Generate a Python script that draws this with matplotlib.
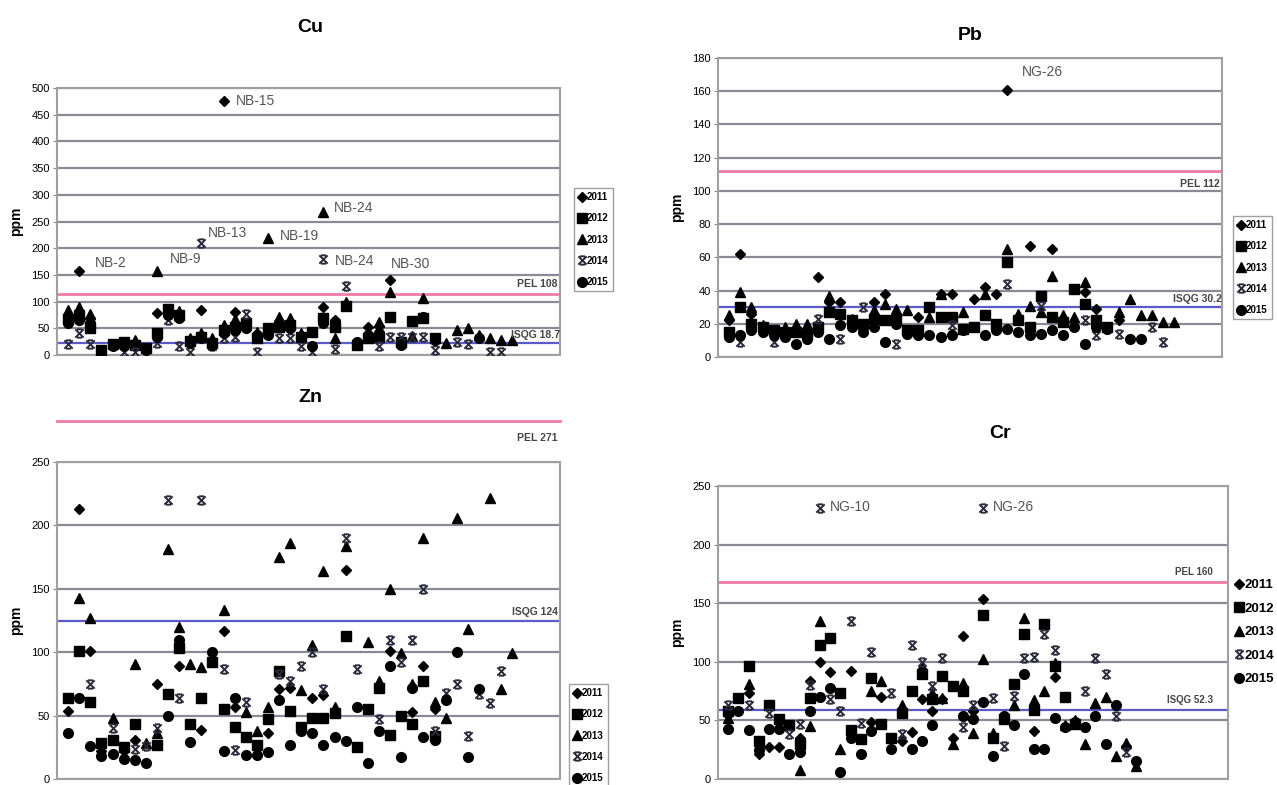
import matplotlib
matplotlib.use("Agg")
import matplotlib.pyplot as plt
import numpy as np
from matplotlib.path import Path

plt.rcParams['font.family'] = ['Liberation Sans', 'DejaVu Sans']

n = np.nan
years = ['2011', '2012', '2013', '2014', '2015']
stations = np.arange(1, 42)

# Cu (ppm)
cu_2011 = [75, 158, 70, n, n, n, n, n, 78, n, n, n, 84, n, 475, 81, n, n, n, 63, n, n, n, 89, 65,
           n, n, 53, 55, 141, n, n, n, n, n, n, n, n, n, n, n]
cu_2012 = [68, 75, 50, 10, 21, 25, 19, 13, 41, 87, 75, 27, 34, 22, 47, 53, 59, 31, 50, 53, 56, 34, 44, 69, 53,
           91, 19, 31, 34, 72, 25, 64, 69, 31, n, n, n, n, n, n, n]
cu_2013 = [85, 89, 76, n, n, n, 28, n, 158, 83, 83, 31, 41, 31, 56, 67, 56, 44, 220, 72, 69, 41, n, 268, 31,
           100, 25, n, 62, 118, n, 36, 106, n, 22, 47, 50, 38, 31, 28, 28]
cu_2014 = [20, 41, 21, n, n, 6, 6, n, 23, 66, 17, 6, 210, 17, 31, 34, 77, 6, n, 31, 31, 17, 6, 180, 12,
           129, n, n, 17, 34, 34, 34, 34, 9, n, 25, 21, n, 6, 6, n]
cu_2015 = [60, 66, 59, 8, 16, 16, n, 10, 34, 75, 69, 22, 31, 19, 41, 47, 50, 38, 38, n, 50, 34, 16, 60, 62,
           n, 25, 38, 41, n, 19, n, 72, 28, n, n, n, 31, n, n, n]

# Pb (ppm)
pb_2011 = [22, 62, 26, n, n, n, n, n, 48, 33, 33, n, n, 33, 38, n, n, 24, n, 38, 38, n, 35, 42, 38,
           161, n, 67, n, 65, n, n, 39, 29, n, 22, n, n, n, n, n]
pb_2012 = [15, 30, 20, 18, 16, 15, 15, 14, 18, 27, 26, 22, 20, 23, 22, 22, 16, 16, 30, 24, 24, 17, 18, 25, 20,
           57, 22, 18, 37, 24, 21, 41, 32, 22, 18, n, n, n, n, n, n]
pb_2013 = [25, 39, 30, 19, n, 18, 20, 20, n, 37, n, 23, n, 28, 32, 29, 28, n, 24, 38, n, 27, n, 38, n,
           65, 26, 31, 27, 49, 25, 24, 45, n, n, 27, 35, 25, 25, 21, 21]
pb_2014 = [n, 9, n, n, 9, n, n, n, 23, n, 11, n, 30, n, n, 8, n, n, n, n, 19, n, n, n, n,
           44, n, n, 31, n, n, n, 22, 13, n, 14, n, n, 18, 9, n]
pb_2015 = [12, 13, 16, 15, 13, 12, 8, 11, 15, 11, 19, 18, 15, 18, 9, 20, 14, 13, 13, 12, 13, 16, n, 13, 16,
           17, 15, 13, 14, 16, 13, 18, 8, 18, 17, n, 11, 11, n, n, n]

# Zn (ppm)
zn_2011 = [54, 213, 101, 22, n, 22, 31, n, 75, n, 89, n, 39, n, 117, 57, n, n, 36, 71, 72, n, 64, 66, n,
           165, n, n, n, 101, n, 53, 89, 55, n, n, n, n, n, n, n]
zn_2012 = [64, 101, 61, 28, 31, 25, 43, n, 27, 67, 103, 43, 64, 92, 55, 41, 33, 27, 47, 85, 54, 41, 48, 48, 52,
           113, 25, 55, 72, 35, 50, 43, 77, 34, n, n, n, n, n, n, n]
zn_2013 = [n, 143, 127, n, 48, n, 91, 28, 36, 181, 120, 91, 88, n, 133, n, 53, 38, 57, 175, 186, 70, 106, 164, 57,
           184, n, 108, 77, 150, 99, 75, 190, 61, 48, 206, 118, n, 222, 71, 99]
zn_2014 = [n, n, 75, n, 40, n, 24, 26, 40, 220, 64, n, 220, n, 87, 23, 61, n, n, 83, 77, 89, 100, 71, n,
           190, 87, n, 47, 110, 92, 110, 150, 38, 68, 75, 34, 67, 60, 85, n]
zn_2015 = [36, 64, 26, 18, 20, 16, 15, 13, n, 50, 110, 29, n, 100, 22, 64, 19, 19, 21, 62, 27, 38, 36, 27, 33,
           30, 57, 13, 38, 89, 17, 72, 33, 31, 62, 100, 17, 71, n, n, n]

# Cr (ppm)
cr_2011 = [55, n, 73, 21, 27, 27, n, 35, 84, 100, 91, n, 92, n, 49, 70, n, 32, 40, 68, 58, 68, 35, 122, 58,
           154, n, n, n, n, 41, n, 87, n, n, n, n, n, n, 28, n]
cr_2012 = [58, 69, 96, 32, 63, 51, 46, 30, 69, 114, 120, 73, 42, 34, 86, 47, 35, 56, 75, 90, 68, 88, 79, 75, n,
           140, 35, 51, 81, 124, 59, 132, 96, 70, 47, n, n, n, n, n, n]
cr_2013 = [52, n, 81, n, n, n, n, 8, 45, 135, n, 26, n, n, 75, 84, n, 63, n, 96, 73, 69, 30, 82, 39,
           102, 39, n, 63, 137, 67, 75, 99, 46, 50, 30, 65, 70, 20, 31, 11]
cr_2014 = [63, n, 63, n, 56, n, 38, 47, 80, 231, 68, 58, 135, 48, 108, n, 73, 38, 114, 100, 79, 103, n, 44, 63,
           231, 69, 28, 71, 103, 104, 124, 110, n, n, 75, 103, 90, 54, 23, n]
cr_2015 = [43, 58, 42, 25, 43, 43, 21, 23, 58, 70, 78, 6, 35, 21, 41, n, 26, n, 26, 32, 46, n, n, 54, 51,
           66, 20, 54, 46, 90, 26, 26, 52, 44, 49, 44, 54, 30, 63, n, 15]

# x-marker with bars (Excel style)
xbar = Path([(-1, -1), (1, 1), (-1, 1), (1, -1), (-0.6, 1), (0.6, 1), (-0.6, -1), (0.6, -1)],
            [Path.MOVETO, Path.LINETO, Path.MOVETO, Path.LINETO,
             Path.MOVETO, Path.LINETO, Path.MOVETO, Path.LINETO])

styles = [
    dict(marker='D', markersize=5.4, color='black'),
    dict(marker='s', markersize=7, color='black'),
    dict(marker='^', markersize=7.4, color='black'),
    dict(marker=xbar, markersize=6, color='#2a2a3a', markeredgewidth=1.4, fillstyle='none'),
    dict(marker='o', markersize=7, color='black'),
]

W, H = 1277, 785
fig = plt.figure(figsize=(W / 100, H / 100), dpi=100)


def box(x0, y0, x1, y1):
    return [x0 / W, 1 - y1 / H, (x1 - x0) / W, (y1 - y0) / H]


def panel(rect, series, ymax, ystep, xmax, isqg):
    ax = fig.add_axes(rect)
    for vals, st, yr in zip(series, styles, years):
        ax.plot(stations, vals, linestyle='none', label=yr, **st, zorder=3)
    ax.set_ylim(0, ymax)
    ax.set_xlim(0, xmax)
    ax.set_yticks(np.arange(0, ymax + 1, ystep))
    ax.set_xticks([])
    ax.yaxis.grid(True, color='#8a8a96', linewidth=1.6)
    ax.set_axisbelow(True)
    for sp in ax.spines.values():
        sp.set_color('#a0a0a0')
        sp.set_linewidth(1.5)
    ax.tick_params(axis='y', labelsize=8, length=3, color='#888888', pad=2)
    ax.set_ylabel('ppm', fontsize=10, fontweight='bold', labelpad=6)
    ax.axhline(isqg, color='#5a5ac8', linewidth=1.6, zorder=2)
    return ax


def line_label(ax, x, y, txt, va, size=7.5):
    ax.text(x, y, txt, transform=ax.get_yaxis_transform(), ha='right', va=va,
            fontsize=size, fontweight='bold', color='#444444')


# Cu
ax_cu = panel(box(57, 88, 560, 355), [cu_2011, cu_2012, cu_2013, cu_2014, cu_2015], 500, 50, 45.3, 22)
ax_cu.axhline(115, color='#f07aa8', linewidth=2)
line_label(ax_cu, 0.995, 123, 'PEL 108', 'bottom')
line_label(ax_cu, 1.0, 28, 'ISQG 18.7', 'bottom')
fig.text(310 / W, 1 - 28 / H, 'Cu', ha='center', va='center', fontsize=14, fontweight='bold')

cu_notes = [('NB-2', 2, 158, 16, 8), ('NB-9', 9, 158, 13, 12), ('NB-13', 13, 210, 7, 10),
            ('NB-15', 15, 475, 12, 0), ('NB-19', 19, 220, 12, 2), ('NB-24', 24, 268, 10, 4),
            ('NB-24', 24, 180, 11, -2), ('NB-30', 30, 141, 1, 16)]
for txt, st, v, dx, dy in cu_notes:
    ax_cu.annotate(txt, (st, v), xytext=(dx, dy), textcoords='offset pixels',
                   ha='left', va='center', fontsize=10, color='#555555')

# Pb
ax_pb = panel(box(718, 58, 1222, 357), [pb_2011, pb_2012, pb_2013, pb_2014, pb_2015], 180, 20, 45.3, 30)
ax_pb.axhline(112, color='#f07aa8', linewidth=2)
line_label(ax_pb, 0.995, 107, 'PEL 112', 'top')
line_label(ax_pb, 1.0, 32, 'ISQG 30.2', 'bottom')
ax_pb.annotate('NG-26', (26, 161), xytext=(15, 18), textcoords='offset pixels',
               ha='left', va='center', fontsize=10, color='#555555')
fig.text(970 / W, 1 - 35 / H, 'Pb', ha='center', va='center', fontsize=14, fontweight='bold')

# Zn
ax_zn = panel(box(57, 462, 560, 779), [zn_2011, zn_2012, zn_2013, zn_2014, zn_2015], 250, 50, 45.3, 125)
ax_zn.plot([0, 1], [1.13, 1.13], transform=ax_zn.transAxes, color='#f07aa8', linewidth=2, clip_on=False)
ax_zn.text(0.995, 1.09, 'PEL 271', transform=ax_zn.transAxes, ha='right', va='top',
           fontsize=7.5, fontweight='bold', color='#444444')
line_label(ax_zn, 0.995, 128, 'ISQG 124', 'bottom')
fig.text(310 / W, 1 - 398 / H, 'Zn', ha='center', va='center', fontsize=14, fontweight='bold')

# Cr
ax_cr = panel(box(718, 486, 1228, 779), [cr_2011, cr_2012, cr_2013, cr_2014, cr_2015], 250, 50, 50, 59)
ax_cr.axhline(168, color='#f07aa8', linewidth=2)
line_label(ax_cr, 0.97, 172, 'PEL 160', 'bottom', 7)
line_label(ax_cr, 0.97, 63, 'ISQG 52.3', 'bottom', 7)
for st in (10, 26):
    ax_cr.annotate('NG-%d' % st, (st, 231), xytext=(10, 1), textcoords='offset pixels',
                   ha='left', va='center', fontsize=10, color='#555555')
fig.text(1000 / W, 1 - 433 / H, 'Cr', ha='center', va='center', fontsize=14, fontweight='bold')

# legends
leg_kw = dict(loc='upper left', handletextpad=0.05, handlelength=0.8,
              borderpad=0.45, labelspacing=1.15, fancybox=False, edgecolor='#888888',
              prop={'weight': 'bold', 'size': 7})
ax_cu.legend(bbox_to_anchor=(569 / W, 1 - 183 / H), bbox_transform=fig.transFigure, **leg_kw)
ax_pb.legend(bbox_to_anchor=(1228 / W, 1 - 211 / H), bbox_transform=fig.transFigure, **leg_kw)
ax_zn.legend(bbox_to_anchor=(564 / W, 1 - 679 / H), bbox_transform=fig.transFigure, **leg_kw)
ax_cr.legend(bbox_to_anchor=(1226 / W, 1 - 570 / H), bbox_transform=fig.transFigure,
             loc='upper left', frameon=False, handletextpad=0.1, handlelength=0.6,
             borderpad=0.2, labelspacing=0.85, prop={'weight': 'bold', 'size': 9.5})

fig.savefig('out.png', dpi=100)
